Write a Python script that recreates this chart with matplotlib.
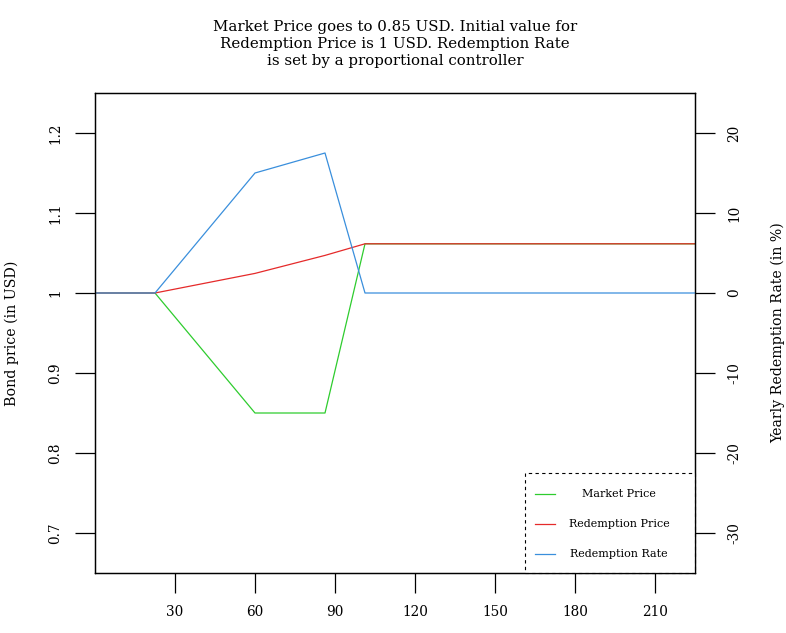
import matplotlib
matplotlib.use("Agg")
import matplotlib.pyplot as plt
from matplotlib.patches import Rectangle

plt.rcParams['font.family'] = ['DejaVu Serif']

# data
days = [0, 22.5, 60, 86.25, 101.25, 225]
market_price = [1.0, 1.0, 0.85, 0.85, 1.0615, 1.0615]
redemption_price = [1.0, 1.0, 1.0245, 1.047, 1.0615, 1.0615]
redemption_rate = [0.0, 0.0, 15.0, 17.5, 0.0, 0.0]

x_ticks = [30, 60, 90, 120, 150, 180, 210]
left_ticks = [0.7, 0.8, 0.9, 1.0, 1.1, 1.2]
left_labels = ['0.7', '0.8', '0.9', '1', '1.1', '1.2']
right_ticks = [-30, -20, -10, 0, 10, 20]

title = ("Market Price goes to 0.85 USD. Initial value for\n"
         "Redemption Price is 1 USD. Redemption Rate\n"
         "is set by a proportional controller")

green = '#2ecc2e'
red = '#e52a2a'
blue = '#3a8fdc'

fig = plt.figure(figsize=(7.86, 6.33), dpi=100)
ax = fig.add_axes([95/786, 1-573/633, 600/786, 480/633])
ax2 = ax.twinx()

ax.plot(days, market_price, color=green, lw=0.9)
ax.plot(days, redemption_price, color=red, lw=0.9)
ax2.plot(days, redemption_rate, color=blue, lw=0.9)

ax.set_xlim(0, 225)
ax.set_ylim(0.65, 1.25)
ax2.set_ylim(-35, 25)

ax.set_xticks(x_ticks)
ax.set_xticklabels([str(t) for t in x_ticks], fontsize=9.8)
ax.set_yticks(left_ticks)
ax.set_yticklabels(left_labels, fontsize=9.8, rotation=90, va='center')
ax2.set_yticks(right_ticks)
ax2.set_yticklabels([str(t) for t in right_ticks], fontsize=9.8, rotation=90, va='center')

for a in (ax, ax2):
    a.tick_params(direction='out', length=14.4, width=0.9, pad=9, colors='black')
    for s in a.spines.values():
        s.set_linewidth(0.9)
        s.set_color('black')

ax.set_ylabel('Bond price (in USD)', fontsize=10.2, labelpad=21)
ax2.set_ylabel('Yearly Redemption Rate (in %)', fontsize=10.2, rotation=90, labelpad=21)

fig.text(395/786, 1-44/633, title, ha='center', va='center', fontsize=10.8,
         multialignment='center', linespacing=1.25)

# legend box
x0 = (525-95)/600
h = (573-473)/480
ax.add_patch(Rectangle((x0, 0), 1-x0, h, transform=ax.transAxes, fill=True,
                       facecolor='white', edgecolor='black', lw=0.8,
                       linestyle=(0, (3, 3)), zorder=5, clip_on=False))
labels = ['Market Price', 'Redemption Price', 'Redemption Rate']
colors = [green, red, blue]
rows = [(573-494)/480, (573-524)/480, (573-554)/480]
for lab, c, yy in zip(labels, colors, rows):
    ax.plot([(535-95)/600, (555-95)/600], [yy, yy], color=c, lw=0.9,
            transform=ax.transAxes, zorder=6, clip_on=False)
    ax.text((619-95)/600, yy, lab, transform=ax.transAxes, ha='center',
            va='center', fontsize=8, zorder=6)

fig.savefig('out.png', dpi=100)
